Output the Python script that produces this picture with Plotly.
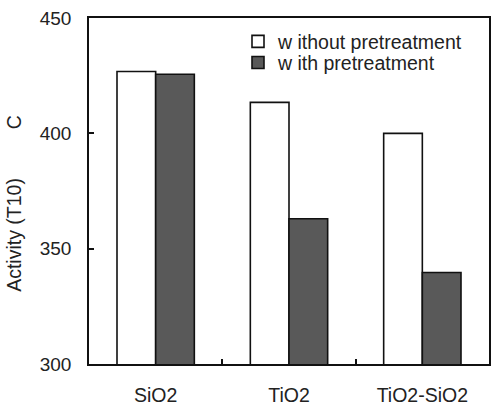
import plotly.graph_objects as go

categories = ["SiO2", "TiO2", "TiO2-SiO2"]
without_pre = [426.8, 413.4, 400.0]
with_pre = [425.6, 363.0, 339.7]
y_ticks = [300, 350, 400, 450]

font_family = "Liberation Sans, Arial, sans-serif"
ink = "#222222"

fig = go.Figure()
fig.add_trace(go.Bar(
    x=categories, y=without_pre, name="w ithout pretreatment",
    marker=dict(color="#ffffff", line=dict(color="#111111", width=1.6)),
    legend="legend",
))
fig.add_trace(go.Bar(
    x=categories, y=with_pre, name="w ith pretreatment",
    marker=dict(color="#595959", line=dict(color="#111111", width=1.6)),
    legend="legend2",
))

legend_style = dict(
    xanchor="left", yanchor="top",
    bgcolor="rgba(0,0,0,0)", borderwidth=0,
    font=dict(size=19.5, color=ink), itemwidth=30,
)

fig.update_layout(
    width=491, height=405,
    margin=dict(l=89, r=2, t=18, b=41),
    paper_bgcolor="white", plot_bgcolor="white",
    barmode="group", bargap=0.42, bargroupgap=0,
    font=dict(family=font_family, size=19, color=ink),
    showlegend=True,
    legend=dict(x=0.3725, y=0.988, **legend_style),
    legend2=dict(x=0.3725, y=0.927, **legend_style),
    xaxis=dict(
        type="category", tickson="boundaries", automargin=False,
        ticks="inside", ticklen=5, tickwidth=1.5, tickcolor="#111111",
        showline=True, linecolor="#111111", linewidth=1.6, mirror=True,
        showgrid=False, tickfont=dict(size=19.5), ticklabelstandoff=13,
    ),
    yaxis=dict(
        range=[300, 450], tickvals=y_ticks, automargin=False,
        ticks="inside", ticklen=5, tickwidth=1.5, tickcolor="#111111",
        showline=True, linecolor="#111111", linewidth=1.6, mirror=True,
        showgrid=False, zeroline=False, tickfont=dict(size=19),
        ticklabelstandoff=12,
    ),
    annotations=[dict(
        text="Activity (T10)         C",
        xref="paper", yref="paper", x=-0.1875, y=0.463,
        xanchor="center", yanchor="middle", textangle=-90,
        showarrow=False, font=dict(size=19.5, color=ink),
    )],
)

fig.write_html("out.html")
